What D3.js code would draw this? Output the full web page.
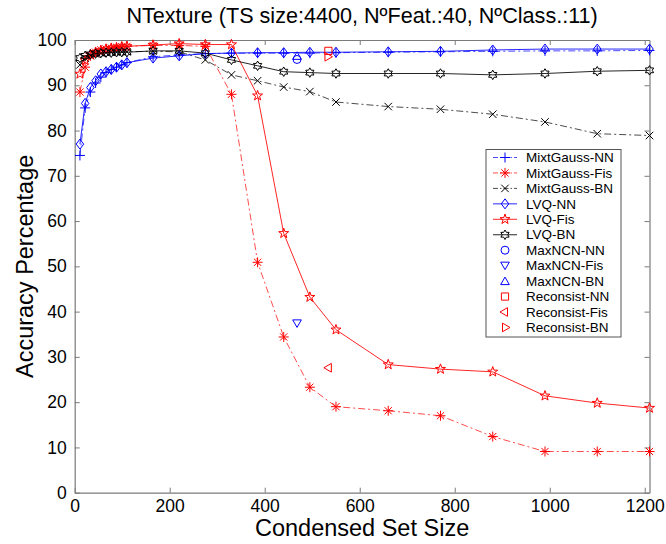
<!DOCTYPE html>
<html>
<head>
<meta charset="utf-8">
<script src="https://cdn.jsdelivr.net/npm/d3@7/dist/d3.min.js"></script>
<style>
  html, body { margin: 0; padding: 0; background: #fff; }
  svg { display: block; font-family: "Liberation Sans", Arial, sans-serif; }
</style>
</head>
<body>
<svg id="chart" width="666" height="544"></svg>
<script>
// Condensed set sizes (shared by all curve series)
const sizes = [11, 22, 33, 44, 55, 66, 77, 88, 99, 110, 165, 220, 275, 330, 385, 440, 495, 550, 660, 770, 880, 990, 1100, 1210];

// Accuracy (%) per method / classifier
const mixtGaussNN  = [74.5, 85.0, 88.5, 90.5, 91.8, 92.8, 93.5, 94.0, 94.5, 95.0, 96.3, 96.7, 97.0, 97.1, 97.1, 97.1, 97.1, 97.2, 97.3, 97.4, 97.5, 97.6, 97.6, 97.7];
const mixtGaussFis = [88.5, 94.0, 96.5, 97.3, 97.8, 98.0, 98.2, 98.4, 98.5, 98.6, 98.8, 98.8, 98.6, 88.0, 50.9, 34.4, 23.3, 19.0, 18.1, 17.0, 12.4, 9.1, 9.1, 9.1];
const mixtGaussBN  = [94.5, 96.0, 96.6, 96.9, 97.1, 97.2, 97.3, 97.3, 97.4, 97.4, 97.5, 97.4, 95.6, 92.3, 91.0, 89.6, 88.6, 86.3, 85.3, 84.7, 83.6, 81.9, 79.3, 78.9];
const lvqNN        = [77.0, 86.0, 89.5, 91.0, 92.5, 93.0, 93.5, 94.0, 94.5, 95.0, 96.0, 96.5, 97.0, 97.1, 97.2, 97.2, 97.3, 97.3, 97.4, 97.5, 97.8, 98.0, 98.0, 98.0];
const lvqFis       = [92.5, 95.5, 96.8, 97.3, 97.7, 98.0, 98.2, 98.3, 98.5, 98.6, 98.9, 99.2, 99.0, 99.0, 87.7, 57.3, 43.2, 36.0, 28.3, 27.3, 26.7, 21.4, 19.8, 18.7];
const lvqBN        = [96.0, 96.5, 96.8, 97.0, 97.1, 97.2, 97.2, 97.3, 97.3, 97.3, 97.6, 97.6, 97.1, 95.6, 94.3, 93.0, 92.8, 92.6, 92.6, 92.6, 92.3, 92.6, 93.1, 93.3];

// Single-point methods: [size, accuracy]
const maxNCN_NN    = [468, 95.7];
const maxNCN_Fis   = [468, 37.4];
const maxNCN_BN    = [468, 96.5];
const reconsistNN  = [534, 97.6];
const reconsistFis = [535, 27.6];
const reconsistBN  = [532, 96.3];

const xTicks = [0, 200, 400, 600, 800, 1000, 1200];
const yTicks = [0, 10, 20, 30, 40, 50, 60, 70, 80, 90, 100];

const titleText = "NTexture (TS size:4400, NºFeat.:40, NºClass.:11)";
const xLabel = "Condensed Set Size";
const yLabel = "Accuracy Percentage";

const BLUE = "#0000ff", RED = "#ff0000", BLACK = "#000000";

const curves = [
  { name: "MixtGauss-NN",  values: mixtGaussNN,  color: BLUE,  dash: "7,3,2,3", marker: "plus" },
  { name: "MixtGauss-Fis", values: mixtGaussFis, color: RED,   dash: "7,3,2,3", marker: "asterisk" },
  { name: "MixtGauss-BN",  values: mixtGaussBN,  color: BLACK, dash: "7,3,2,3", marker: "cross" },
  { name: "LVQ-NN",        values: lvqNN,        color: BLUE,  dash: null,      marker: "diamond" },
  { name: "LVQ-Fis",       values: lvqFis,       color: RED,   dash: null,      marker: "pentagram" },
  { name: "LVQ-BN",        values: lvqBN,        color: BLACK, dash: null,      marker: "hexagram" }
];
const points = [
  { name: "MaxNCN-NN",     pt: maxNCN_NN,    color: BLUE, marker: "circle" },
  { name: "MaxNCN-Fis",    pt: maxNCN_Fis,   color: BLUE, marker: "triDown" },
  { name: "MaxNCN-BN",     pt: maxNCN_BN,    color: BLUE, marker: "triUp" },
  { name: "Reconsist-NN",  pt: reconsistNN,  color: RED,  marker: "square" },
  { name: "Reconsist-Fis", pt: reconsistFis, color: RED,  marker: "triLeft" },
  { name: "Reconsist-BN",  pt: reconsistBN,  color: RED,  marker: "triRight" }
];

const svg = d3.select("#chart");
const plot = { left: 74.7, right: 649.5, top: 40, bottom: 492.7 };

const x = d3.scaleLinear().domain([0, 1210]).range([plot.left, plot.right]);
const y = d3.scaleLinear().domain([0, 100]).range([plot.bottom, plot.top]);

// Marker path generators (centred at 0,0)
function markerPath(type, r) {
  const p = d3.path();
  const star = (n, ro, ri) => {
    for (let i = 0; i < 2 * n; i++) {
      const a = -Math.PI / 2 + i * Math.PI / n;
      const rr = i % 2 ? ri : ro;
      const px = rr * Math.cos(a), py = rr * Math.sin(a);
      i ? p.lineTo(px, py) : p.moveTo(px, py);
    }
    p.closePath();
  };
  const tri = (angle) => {
    for (let i = 0; i < 3; i++) {
      const a = angle + i * 2 * Math.PI / 3;
      const px = r * Math.cos(a), py = r * Math.sin(a) + (angle === -Math.PI / 2 ? r * 0.2 : angle === Math.PI / 2 ? -r * 0.2 : 0);
      i ? p.lineTo(px, py) : p.moveTo(px, py);
    }
    p.closePath();
  };
  switch (type) {
    case "plus":
      p.moveTo(-r, 0); p.lineTo(r, 0); p.moveTo(0, -r); p.lineTo(0, r); break;
    case "cross": {
      const d = r * 0.75;
      p.moveTo(-d, -d); p.lineTo(d, d); p.moveTo(-d, d); p.lineTo(d, -d); break;
    }
    case "asterisk": {
      const d = r * 0.72;
      p.moveTo(-r, 0); p.lineTo(r, 0); p.moveTo(0, -r); p.lineTo(0, r);
      p.moveTo(-d, -d); p.lineTo(d, d); p.moveTo(-d, d); p.lineTo(d, -d); break;
    }
    case "diamond":
      p.moveTo(0, -r); p.lineTo(r * 0.75, 0); p.lineTo(0, r); p.lineTo(-r * 0.75, 0); p.closePath(); break;
    case "pentagram": star(5, r * 1.05, r * 0.42); break;
    case "hexagram": star(6, r * 0.95, r * 0.55); break;
    case "circle": p.arc(0, 0, r * 0.8, 0, 2 * Math.PI); p.closePath(); break;
    case "square": p.rect(-r * 0.72, -r * 0.72, r * 1.44, r * 1.44); break;
    case "triUp": tri(-Math.PI / 2); break;
    case "triDown": tri(Math.PI / 2); break;
    case "triLeft": tri(Math.PI); break;
    case "triRight": tri(0); break;
  }
  return p.toString();
}

function drawMarker(g, type, cx, cy, color) {
  g.append("path")
    .attr("d", markerPath(type, 5))
    .attr("transform", `translate(${cx},${cy})`)
    .attr("fill", "none")
    .attr("stroke", color)
    .attr("stroke-width", 1);
}

// Axes box
svg.append("rect")
  .attr("x", plot.left).attr("y", plot.top)
  .attr("width", plot.right - plot.left).attr("height", plot.bottom - plot.top)
  .attr("fill", "#fff");

// Axes with inward ticks on all sides
const axisColor = "#7a7a7a";
const tl = 5;
const gx = svg.append("g").attr("transform", `translate(0,${plot.bottom})`)
  .call(d3.axisBottom(x).tickValues(xTicks).tickFormat(d3.format("d"))
    .tickSizeInner(-tl).tickSizeOuter(0).tickPadding(7));
const gxTop = svg.append("g").attr("transform", `translate(0,${plot.top})`)
  .call(d3.axisTop(x).tickValues(xTicks).tickSizeInner(-tl).tickSizeOuter(0).tickFormat(""));
const gy = svg.append("g").attr("transform", `translate(${plot.left},0)`)
  .call(d3.axisLeft(y).tickValues(yTicks).tickFormat(d3.format("d"))
    .tickSizeInner(-tl).tickSizeOuter(0).tickPadding(8));
const gyRight = svg.append("g").attr("transform", `translate(${plot.right},0)`)
  .call(d3.axisRight(y).tickValues(yTicks).tickSizeInner(-tl).tickSizeOuter(0).tickFormat(""));

[gx, gxTop, gy, gyRight].forEach(g => {
  g.select(".domain").attr("stroke", axisColor).attr("stroke-width", 1.2);
  g.selectAll(".tick line").attr("stroke", axisColor);
  g.selectAll(".tick text").attr("fill", "#000").attr("font-size", 17.5)
    .attr("font-family", "'Liberation Sans', Arial, sans-serif");
});
gx.selectAll(".tick text").attr("dy", "0.71em");

// Curves
const lineGen = d3.line().x(d => x(d[0])).y(d => y(d[1]));
const plotG = svg.append("g");
curves.forEach(c => {
  const data = sizes.map((s, i) => [s, c.values[i]]);
  plotG.append("path")
    .datum(data)
    .attr("d", lineGen)
    .attr("fill", "none")
    .attr("stroke", c.color)
    .attr("stroke-width", 1)
    .attr("stroke-opacity", c.dash ? 0.7 : 0.85)
    .attr("stroke-dasharray", c.dash);
  data.forEach(d => drawMarker(plotG, c.marker, x(d[0]), y(d[1]), c.color));
});
points.forEach(p => drawMarker(plotG, p.marker, x(p.pt[0]), y(p.pt[1]), p.color));

// Legend
const lg = { x: 486, y: 149.5, w: 135, h: 187.5 };
const legend = svg.append("g");
legend.append("rect")
  .attr("x", lg.x).attr("y", lg.y).attr("width", lg.w).attr("height", lg.h)
  .attr("fill", "#fff").attr("stroke", "#555").attr("stroke-width", 1);
const entries = curves.map(c => ({ name: c.name, color: c.color, marker: c.marker, line: true, dash: c.dash }))
  .concat(points.map(p => ({ name: p.name, color: p.color, marker: p.marker, line: false })));
entries.forEach((e, i) => {
  const ry = lg.y + 8 + i * 15.45;
  if (e.line) {
    legend.append("line")
      .attr("x1", lg.x + 7).attr("x2", lg.x + 31).attr("y1", ry).attr("y2", ry)
      .attr("stroke", e.color).attr("stroke-width", 1)
      .attr("stroke-opacity", e.dash ? 0.7 : 0.85)
      .attr("stroke-dasharray", e.dash ? "5,2,1.5,2" : null);
  }
  drawMarker(legend, e.marker, lg.x + 19, ry, e.color);
  legend.append("text")
    .attr("x", lg.x + 40).attr("y", ry).attr("dy", "0.35em")
    .attr("font-size", 13.5).attr("fill", "#000")
    .text(e.name);
});

// Title and axis labels
const cx = (plot.left + plot.right) / 2;
svg.append("text").attr("x", cx).attr("y", 23).attr("text-anchor", "middle")
  .attr("font-size", 21.6).attr("fill", "#000").text(titleText);
svg.append("text").attr("x", cx).attr("y", 536).attr("text-anchor", "middle")
  .attr("font-size", 23.5).attr("fill", "#000").text(xLabel);
svg.append("text").attr("transform", `translate(33,${(plot.top + plot.bottom) / 2}) rotate(-90)`)
  .attr("text-anchor", "middle").attr("font-size", 23.5).attr("fill", "#000").text(yLabel);
</script>
</body>
</html>
